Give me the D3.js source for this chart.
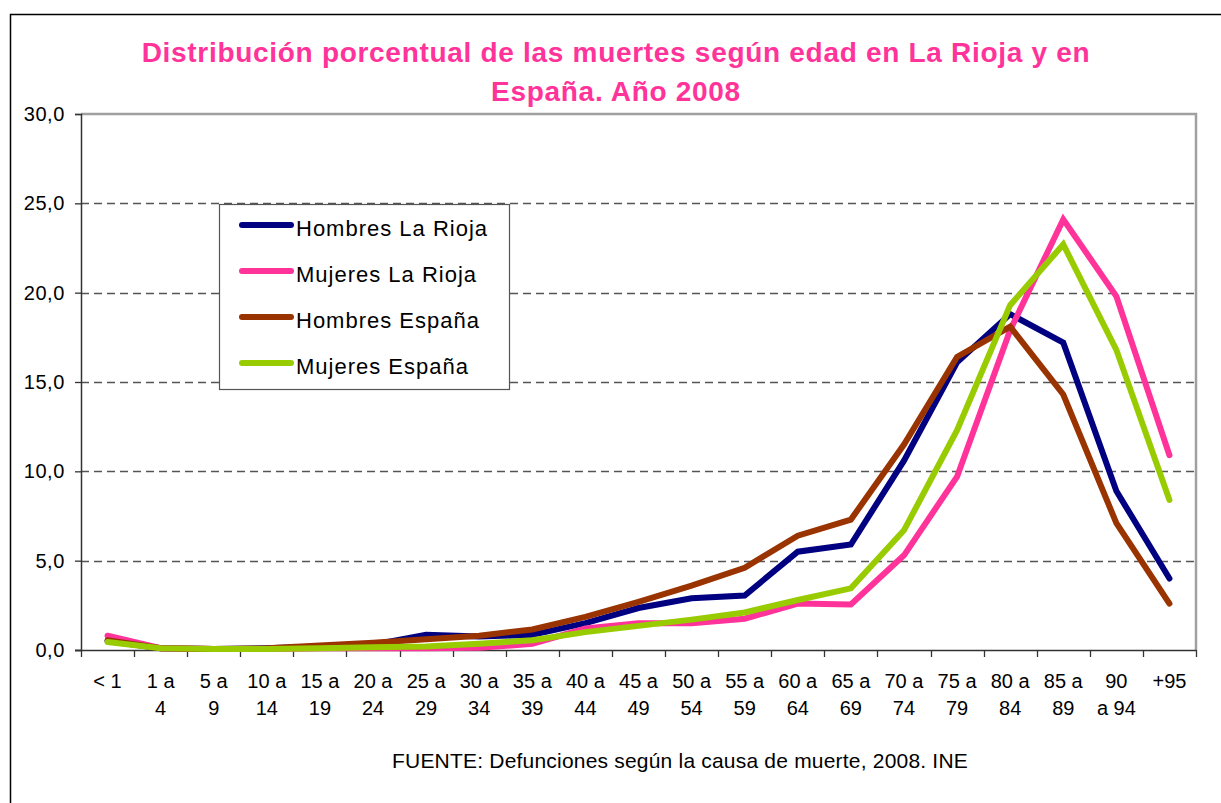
<!DOCTYPE html>
<html>
<head>
<meta charset="utf-8">
<script src="https://cdn.jsdelivr.net/npm/d3@7"></script>
<style>
  body { margin: 0; background: #fff; }
  svg text { font-family: "Liberation Sans", Arial, sans-serif; }
</style>
</head>
<body>
<script>
const ageGroups = [['< 1'], ['1 a', '4'], ['5 a', '9'], ['10 a', '14'], ['15 a', '19'], ['20 a', '24'],
  ['25 a', '29'], ['30 a', '34'], ['35 a', '39'], ['40 a', '44'], ['45 a', '49'], ['50 a', '54'],
  ['55 a', '59'], ['60 a', '64'], ['65 a', '69'], ['70 a', '74'], ['75 a', '79'], ['80 a', '84'],
  ['85 a', '89'], ['90', 'a 94'], ['+95']]

const hombresRioja = [0.5, 0.1, 0.05, 0.1, 0.2, 0.3, 0.85, 0.75, 0.85, 1.5, 2.35, 2.9, 3.05, 5.5, 5.9, 10.6, 16.1, 18.8, 17.2, 8.9, 4.0]
const mujeresRioja = [0.8, 0.1, 0.05, 0.05, 0.1, 0.1, 0.1, 0.12, 0.35, 1.2, 1.5, 1.5, 1.75, 2.6, 2.55, 5.3, 9.7, 17.9, 24.1, 19.8, 10.9]
const hombresEspana = [0.55, 0.1, 0.05, 0.1, 0.25, 0.4, 0.6, 0.8, 1.15, 1.85, 2.7, 3.6, 4.6, 6.4, 7.3, 11.5, 16.4, 18.1, 14.3, 7.1, 2.6]
const mujeresEspana = [0.45, 0.1, 0.05, 0.05, 0.1, 0.15, 0.2, 0.35, 0.55, 1.0, 1.35, 1.7, 2.1, 2.8, 3.45, 6.7, 12.3, 19.3, 22.7, 16.8, 8.4]

const seriesNames = ['Hombres La Rioja', 'Mujeres La Rioja', 'Hombres España', 'Mujeres España']
const seriesColors = ['#000080', '#ff3399', '#993300', '#99cc00']
const yTicks = [0, 5, 10, 15, 20, 25, 30]

const WIDTH = 1221
const HEIGHT = 803

const plot = { left: 81, right: 1196, top: 114, bottom: 650 }

const svg = d3.select('body')
  .append('svg')
  .attr('width', WIDTH)
  .attr('height', HEIGHT)

// outer frame
svg.append('rect')
  .attr('x', 10.5)
  .attr('y', 14.5)
  .attr('width', 1230)
  .attr('height', 820)
  .attr('fill', 'none')
  .attr('stroke', '#000')
  .attr('stroke-width', 1.5)

const titleLines = ['Distribución porcentual de las muertes según edad en La Rioja y en', 'España. Año 2008']

svg.append('g')
  .selectAll('text')
  .data(titleLines)
  .enter()
  .append('text')
  .attr('x', 616)
  .attr('y', (d, i) => 62 + i * 39)
  .attr('text-anchor', 'middle')
  .attr('font-size', 28)
  .attr('font-weight', 'bold')
  .attr('letter-spacing', 0.7)
  .attr('fill', '#ff3399')
  .text(d => d)

const x = d3.scaleBand()
  .domain(d3.range(ageGroups.length))
  .range([plot.left, plot.right])

const y = d3.scaleLinear()
  .domain([0, 30])
  .range([plot.bottom, plot.top])

// plot area border (top, right)
svg.append('path')
  .attr('d', 'M' + plot.left + ',' + plot.top + 'H' + plot.right + 'V' + plot.bottom)
  .attr('fill', 'none')
  .attr('stroke', '#a0a0a0')
  .attr('stroke-width', 2.5)

// gridlines
svg.append('g')
  .selectAll('line')
  .data(yTicks.filter(d => d > 0 && d < 30))
  .enter()
  .append('line')
  .attr('x1', plot.left)
  .attr('x2', plot.right)
  .attr('y1', d => Math.round(y(d)) + 0.5)
  .attr('y2', d => Math.round(y(d)) + 0.5)
  .attr('stroke', '#555')
  .attr('stroke-width', 1.3)
  .attr('stroke-dasharray', '8,5')

const yAxis = d3.axisLeft(y)
  .tickValues(yTicks)
  .tickSize(6)
  .tickPadding(10)
  .tickFormat(d => d3.format('.1f')(d).replace('.', ','))

const yG = svg.append('g')
  .attr('transform', 'translate(' + plot.left + ',0)')
  .call(yAxis)
yG.select('.domain').attr('stroke', '#333').attr('stroke-width', 1.5)
yG.selectAll('.tick line').attr('stroke', '#333').attr('stroke-width', 1.3)
yG.selectAll('.tick text').attr('font-size', 20).attr('fill', '#000')
  .attr('letter-spacing', 0.6)
  .attr('font-family', '"Liberation Sans", Arial, sans-serif')

// x axis
svg.append('line')
  .attr('x1', plot.left - 6)
  .attr('x2', plot.right)
  .attr('y1', plot.bottom + 0.5)
  .attr('y2', plot.bottom + 0.5)
  .attr('stroke', '#333')
  .attr('stroke-width', 1.5)

svg.append('g')
  .selectAll('line')
  .data(d3.range(ageGroups.length + 1))
  .enter()
  .append('line')
  .attr('x1', d => Math.round(plot.left + d * x.step()) + 0.5)
  .attr('x2', d => Math.round(plot.left + d * x.step()) + 0.5)
  .attr('y1', plot.bottom)
  .attr('y2', plot.bottom + 7)
  .attr('stroke', '#333')
  .attr('stroke-width', 1.3)

const xLabels = svg.append('g')
  .selectAll('text')
  .data(ageGroups)
  .enter()
  .append('text')
  .attr('text-anchor', 'middle')
  .attr('font-size', 20)
  .attr('fill', '#000')
  .attr('x', (d, i) => x(i) + x.bandwidth() / 2)
  .attr('y', 688)

xLabels.selectAll('tspan')
  .data(d => d)
  .enter()
  .append('tspan')
  .attr('x', function () { return d3.select(this.parentNode).attr('x') })
  .attr('dy', (d, i) => i === 0 ? 0 : 27)
  .text(d => d)

// series lines
const line = d3.line()
  .x((d, i) => x(i) + x.bandwidth() / 2)
  .y(d => y(d))

const allSeries = [hombresRioja, mujeresRioja, hombresEspana, mujeresEspana]

svg.append('g')
  .selectAll('path')
  .data(allSeries)
  .enter()
  .append('path')
  .attr('d', d => line(d))
  .attr('fill', 'none')
  .attr('stroke', (d, i) => seriesColors[i])
  .attr('stroke-width', 6)
  .attr('stroke-linejoin', 'miter')
  .attr('stroke-linecap', 'round')

// legend
const legend = svg.append('g')
  .attr('id', 'legend')

legend.append('rect')
  .attr('x', 219.5)
  .attr('y', 204.5)
  .attr('width', 290)
  .attr('height', 185)
  .attr('fill', '#fff')
  .attr('stroke', '#555')
  .attr('stroke-width', 1.2)

legend.selectAll('line')
  .data(seriesNames)
  .enter()
  .append('line')
  .attr('x1', 242)
  .attr('x2', 291)
  .attr('y1', (d, i) => 225 + i * 46)
  .attr('y2', (d, i) => 225 + i * 46)
  .attr('stroke', (d, i) => seriesColors[i])
  .attr('stroke-width', 6)
  .attr('stroke-linecap', 'round')

legend.selectAll('text')
  .data(seriesNames)
  .enter()
  .append('text')
  .attr('x', 296)
  .attr('y', (d, i) => 236 + i * 46)
  .attr('font-size', 22)
  .attr('letter-spacing', 1.0)
  .attr('fill', '#000')
  .text(d => d)

svg.append('text')
  .attr('x', 680)
  .attr('y', 768)
  .attr('text-anchor', 'middle')
  .attr('font-size', 21)
  .attr('letter-spacing', 0.2)
  .attr('fill', '#000')
  .text('FUENTE: Defunciones según la causa de muerte, 2008. INE')
</script>
</body>
</html>
